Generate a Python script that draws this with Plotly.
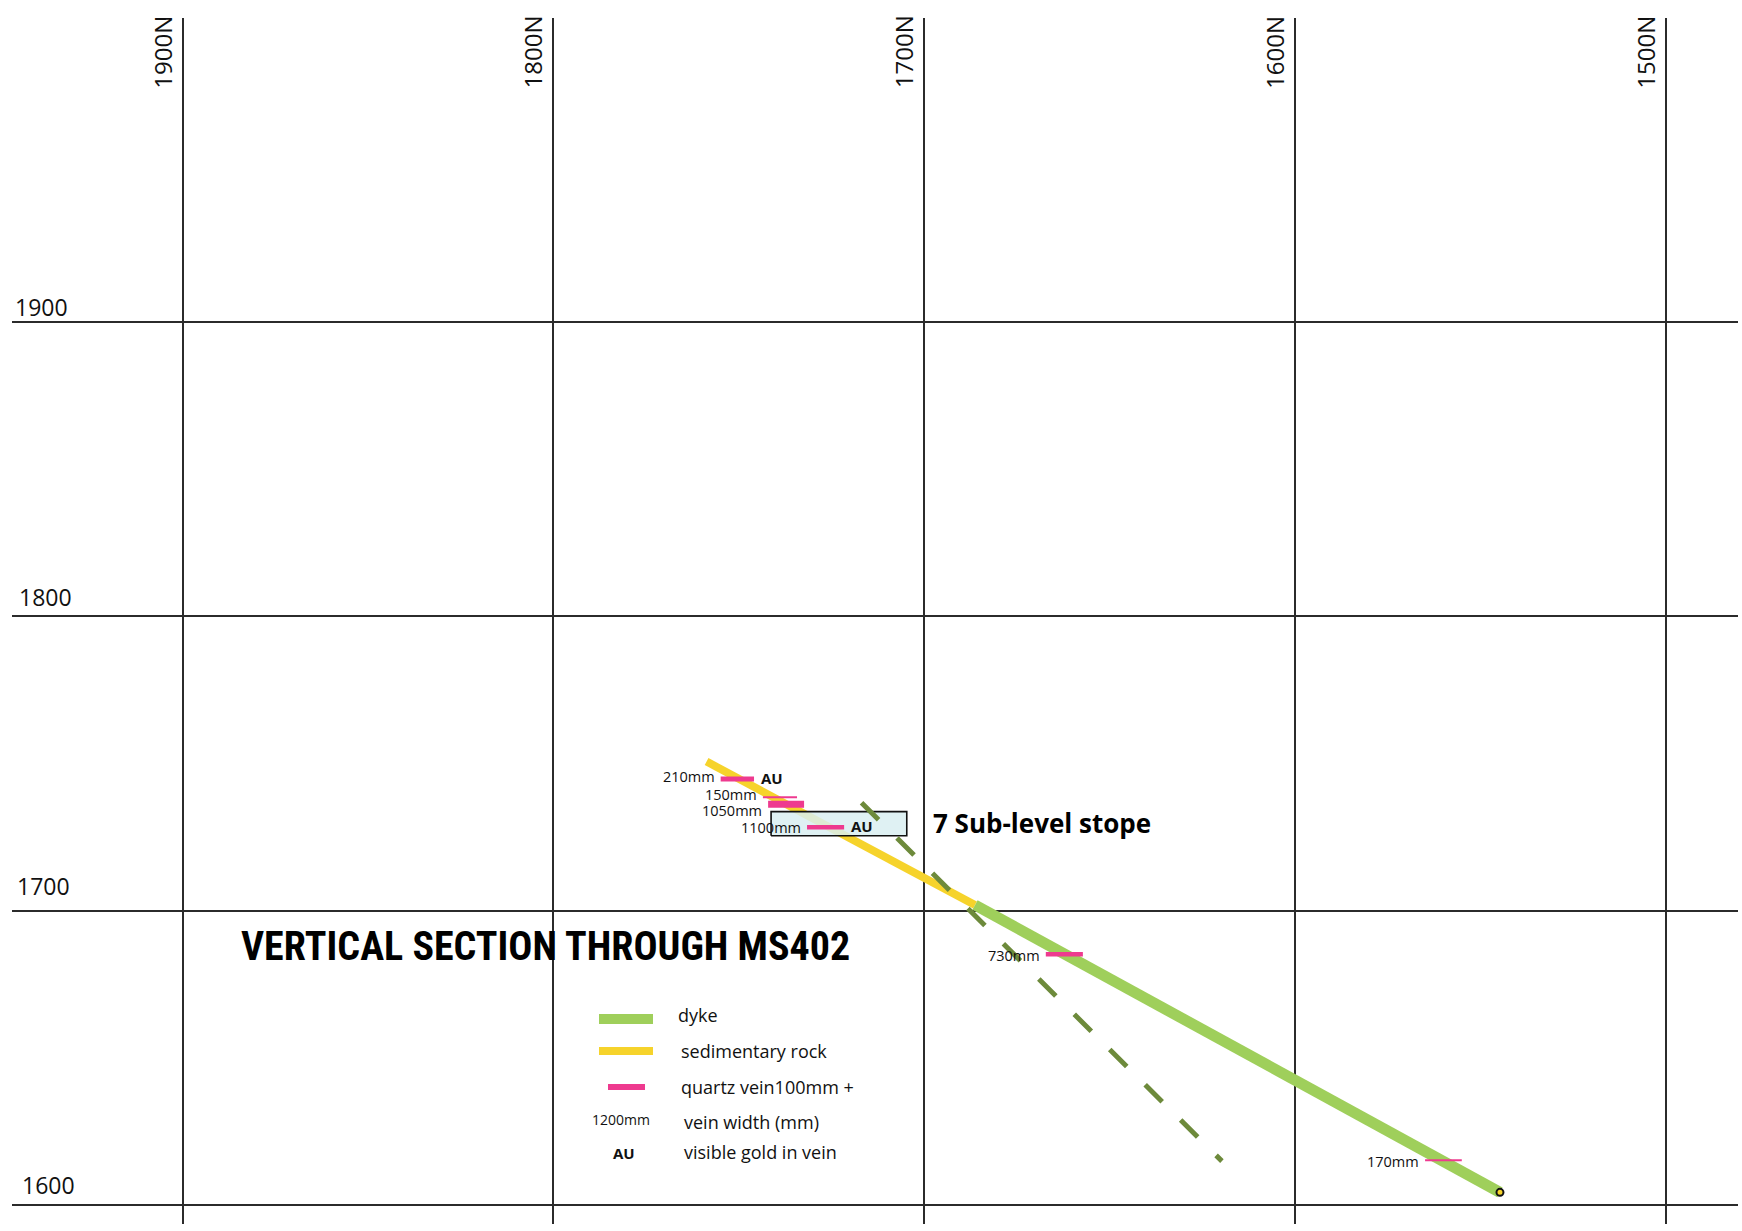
import plotly.graph_objects as go

# ---------------- data ----------------
north_ticks = [1900, 1800, 1700, 1600, 1500]
north_labels = ["1900N", "1800N", "1700N", "1600N", "1500N"]
elev_ticks = [1900, 1800, 1700, 1600]
elev_labels = ["1900", "1800", "1700", "1600"]

# sedimentary rock (yellow) and dyke (green) traces: northing, elevation
sed_N = [1758.7, 1686.3]
sed_E = [1750.6, 1701.9]
dyke_N = [1686.3, 1544.7]
dyke_E = [1701.9, 1604.3]
# dashed projection
dash_N = [1716.9, 1619.7]
dash_E = [1736.6, 1614.9]
# 7 sub-level stope box corners
stope_N = [1741.3, 1704.7]
stope_E = [1725.4, 1733.6]

# quartz veins
vein_labels = ["210mm", "150mm", "1050mm", "1100mm", "730mm", "170mm"]
vein_N0 = [1754.9, 1743.5, 1742.1, 1731.6, 1667.2, 1564.9]
vein_N1 = [1745.9, 1734.3, 1732.4, 1721.6, 1657.2, 1555.0]
vein_E = [1744.7, 1738.5, 1736.1, 1728.3, 1685.2, 1615.2]
vein_gold = [True, False, False, True, False, False]

legend_items = ["dyke", "sedimentary rock", "quartz vein100mm +", "vein width (mm)", "visible gold in vein"]

# ---------------- styles ----------------
W, H = 1742, 1231
ML, MR, MT, MB = 12, 4, 18, 7
PW, PH = W - ML - MR, H - MT - MB
GREEN = "#9fcf5b"
YELLOW = "#f6d32b"
PINK = "#ee3a8f"
OLIVE = "#6d8a3b"
GRID = "#2b2b2b"
FONT = "Open Sans, Noto Sans, sans-serif"
TITLE_FONT = "Liberation Sans Narrow, Roboto Condensed, DejaVu Sans Condensed, sans-serif"
vein_w = [5, 2, 7, 4.5, 4.5, 2]
vein_label_dy = [2, 3, -6, 0, -1, -1]
elev_label_x = [13, 17, 15, 20]
elev_label_dy = [15, 19, 25, 20]


def px(x):
    return (x - ML) / PW


def py(y):
    return 1 - (y - MT) / PH


fig = go.Figure()

fig.add_trace(go.Scatter(x=sed_N, y=sed_E, mode="lines",
                         line=dict(color=YELLOW, width=8), hoverinfo="skip"))
fig.add_trace(go.Scatter(x=dyke_N, y=dyke_E, mode="lines",
                         line=dict(color=GREEN, width=11), hoverinfo="skip"))

# stope box
fig.add_trace(go.Scatter(
    x=[stope_N[0], stope_N[1], stope_N[1], stope_N[0], stope_N[0]],
    y=[stope_E[0], stope_E[0], stope_E[1], stope_E[1], stope_E[0]],
    mode="lines", fill="toself", fillcolor="rgba(217,238,241,0.85)",
    line=dict(color="#111111", width=1.6), hoverinfo="skip"))

fig.add_trace(go.Scatter(x=dash_N, y=dash_E, mode="lines",
                         line=dict(color=OLIVE, width=5, dash="24px,26px"),
                         hoverinfo="skip"))

# dyke end marker
fig.add_trace(go.Scatter(x=[dyke_N[-1]], y=[dyke_E[-1]], mode="markers",
                         marker=dict(size=7, color=YELLOW,
                                     line=dict(color="#111111", width=2)),
                         hoverinfo="skip"))

annotations = []
for i, lab in enumerate(vein_labels):
    fig.add_trace(go.Scatter(x=[vein_N0[i], vein_N1[i]], y=[vein_E[i], vein_E[i]],
                             mode="lines", line=dict(color=PINK, width=vein_w[i]),
                             hoverinfo="skip"))
    annotations.append(dict(x=vein_N0[i], y=vein_E[i], xref="x", yref="y",
                            text=lab, showarrow=False, xanchor="right",
                            yanchor="middle", xshift=-4, yshift=vein_label_dy[i],
                            font=dict(family=FONT, size=14.5, color="#111111")))
    if vein_gold[i]:
        annotations.append(dict(x=vein_N1[i], y=vein_E[i], xref="x", yref="y",
                                text="<b>AU</b>", showarrow=False, xanchor="left",
                                yanchor="middle", xshift=5, yshift=1,
                                font=dict(family=FONT, size=15, color="#111111")))

# grid labels
for n, lab in zip(north_ticks, north_labels):
    annotations.append(dict(x=n, y=py(52), xref="x", yref="paper", text=lab,
                            showarrow=False, textangle=-90, xanchor="center",
                            yanchor="middle", xshift=-20,
                            font=dict(family=FONT, size=24, color="#111111")))
for i, (e, lab) in enumerate(zip(elev_ticks, elev_labels)):
    annotations.append(dict(x=px(elev_label_x[i]), y=e, xref="paper", yref="y",
                            text=lab, showarrow=False, xanchor="left",
                            yanchor="middle", yshift=elev_label_dy[i],
                            font=dict(family=FONT, size=23, color="#111111")))

# title and stope label
annotations.append(dict(x=px(545), y=py(946), xref="paper", yref="paper",
                        text="<b>VERTICAL SECTION THROUGH MS402</b>", showarrow=False,
                        xanchor="center", yanchor="middle",
                        font=dict(family=TITLE_FONT, size=40, color="#000000")))
annotations.append(dict(x=px(931), y=py(823), xref="paper", yref="paper",
                        text="<b>7 Sub-level stope</b>", showarrow=False,
                        xanchor="left", yanchor="middle",
                        font=dict(family=FONT, size=26, color="#000000")))

# legend
shapes = []
leg_keys = [(599, 653, 1019, 10, GREEN), (599, 653, 1051, 8, YELLOW), (608, 645, 1087, 6, PINK)]
for x0, x1, y0, w, c in leg_keys:
    shapes.append(dict(type="line", xref="paper", yref="paper", x0=px(x0), x1=px(x1),
                       y0=py(y0), y1=py(y0), line=dict(color=c, width=w)))
annotations.append(dict(x=px(621), y=py(1119), xref="paper", yref="paper", text="1200mm",
                        showarrow=False, xanchor="center", yanchor="middle",
                        font=dict(family=FONT, size=14, color="#111111")))
annotations.append(dict(x=px(624), y=py(1153), xref="paper", yref="paper", text="<b>AU</b>",
                        showarrow=False, xanchor="center", yanchor="middle",
                        font=dict(family=FONT, size=15, color="#111111")))
leg_tx = [676, 679, 679, 682, 682]
leg_ty = [1015, 1051, 1087, 1122, 1152]
for t, x, y in zip(legend_items, leg_tx, leg_ty):
    annotations.append(dict(x=px(x), y=py(y), xref="paper", yref="paper", text=t,
                            showarrow=False, xanchor="left", yanchor="middle",
                            font=dict(family=FONT, size=18, color="#111111")))

x_left = 1900 + (182.7 - ML) / 3.7075
x_right = 1500 - (W - MR - 1665.7) / 3.7075
y_top = 1900 + (321.7 - MT) / 2.9443
y_bot = 1600 - (H - MB - 1205) / 2.9443

fig.update_layout(
    width=W, height=H,
    margin=dict(l=ML, r=MR, t=MT, b=MB, pad=0),
    paper_bgcolor="white", plot_bgcolor="white",
    showlegend=False,
    xaxis=dict(range=[x_left, x_right], tickvals=north_ticks, showticklabels=False,
               showgrid=True, gridcolor=GRID, gridwidth=2, zeroline=False,
               showline=False, ticks="", fixedrange=True),
    yaxis=dict(range=[y_bot, y_top], tickvals=elev_ticks, showticklabels=False,
               showgrid=True, gridcolor=GRID, gridwidth=2, zeroline=False,
               showline=False, ticks="", fixedrange=True),
    annotations=annotations,
    shapes=shapes,
)

fig.write_html("out.html", config={"displayModeBar": False},
               post_script="document.body.style.margin='0';")
